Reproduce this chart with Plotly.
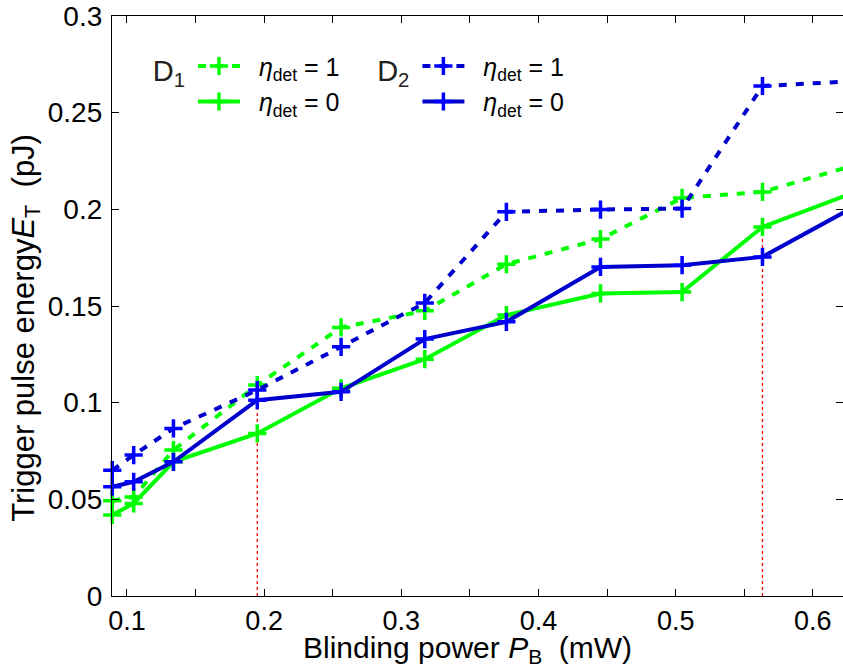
import plotly.graph_objects as go

# Blinding power P_B (mW)
power = [0.0893, 0.1049, 0.1339, 0.1950, 0.2561, 0.3171, 0.3766, 0.4452, 0.5047, 0.5633, 0.6275]

# Trigger pulse energy E_T (pJ)
d1_eta1 = [0.0493, 0.0512, 0.0755, 0.1091, 0.1389, 0.1475, 0.1716, 0.1846, 0.2059, 0.2090, 0.2222]
d1_eta0 = [0.0419, 0.0479, 0.0694, 0.0841, 0.1074, 0.1225, 0.1453, 0.1565, 0.1572, 0.1909, 0.2081]
d2_eta1 = [0.0651, 0.0729, 0.0867, 0.1065, 0.1289, 0.1516, 0.1987, 0.1999, 0.2004, 0.2638, 0.2662]
d2_eta0 = [0.0565, 0.0591, 0.0694, 0.1013, 0.1056, 0.1329, 0.1418, 0.1702, 0.1711, 0.1754, 0.2003]

# red dotted markers
mark_x = [0.1950, 0.5633]
mark_top = [0.1013, 0.1909]

x_ticks = [0.1, 0.2, 0.3, 0.4, 0.5, 0.6]
x_ticktext = ["0.1", "0.2", "0.3", "0.4", "0.5", "0.6"]
x_minor = [0.15, 0.25, 0.35, 0.45, 0.55]
y_ticks = [0, 0.05, 0.1, 0.15, 0.2, 0.25, 0.3]
y_ticktext = ["0", "0.05", "0.1", "0.15", "0.2", "0.25", "0.3"]

FONT = "Liberation Sans, Arial, Helvetica, sans-serif"
GREEN = "#00FF00"
BLUE_LINE = "#0000CC"
BLUE_MARK = "#0000FF"
DASH = "8px,9px"

fig = go.Figure()

# red dotted vertical lines
rx, ry = [], []
for xv, top in zip(mark_x, mark_top):
    rx += [xv, xv, None]
    ry += [0, top, None]
fig.add_trace(go.Scatter(x=rx, y=ry, mode="lines", showlegend=False,
                         line=dict(color="red", width=1.3, dash="dot"), hoverinfo="skip"))

def add(y, line_color, mark_color, dash, name, legend):
    fig.add_trace(go.Scatter(
        x=power, y=y, mode="lines+markers", name=name, legend=legend,
        line=dict(color=line_color, width=4, dash=dash),
        marker=dict(symbol="cross-thin", size=13, color=mark_color,
                    line=dict(color=mark_color, width=3.5)),
        cliponaxis=False,
    ))

NB = "\u00a0\u00a0"
eta1 = NB + "<i>η</i><sub>det</sub> = 1"
eta0 = NB + "<i>η</i><sub>det</sub> = 0"
add(d1_eta1, GREEN, GREEN, DASH, eta1, "legend")
add(d1_eta0, GREEN, GREEN, "solid", eta0, "legend")
add(d2_eta1, BLUE_LINE, BLUE_MARK, DASH, eta1, "legend2")
add(d2_eta0, BLUE_LINE, BLUE_MARK, "solid", eta0, "legend2")

axis_common = dict(
    showline=True, linecolor="black", linewidth=1.3, mirror="ticks",
    ticks="inside", ticklen=7, tickwidth=1, tickcolor="black",
    showgrid=False, zeroline=False, automargin=False,
)

fig.update_xaxes(range=[0.0891, 0.622], tickvals=x_ticks, ticktext=x_ticktext,
                 minor=dict(tickvals=x_minor, ticks="inside",
                            ticklen=7, tickwidth=1, tickcolor="black"),
                 tickfont=dict(family=FONT, size=27, color="black"),
                 ticklabelstandoff=0, **axis_common)
fig.update_yaxes(range=[0, 0.3], tickvals=y_ticks, ticktext=y_ticktext,
                 tickfont=dict(family=FONT, size=28, color="black"),
                 ticklabelstandoff=3, **axis_common)

legend_common = dict(
    font=dict(family=FONT, size=25, color="black"),
    bgcolor="rgba(0,0,0,0)", borderwidth=0,
    xanchor="left", yanchor="top", tracegroupgap=0,
    orientation="v", itemwidth=42,
)
fig.update_layout(
    legend=dict(x=0.053, y=0.953,
                title=dict(text="D<sub>1</sub>", side="left",
                           font=dict(family=FONT, size=29, color="#222")),
                **legend_common),
    legend2=dict(x=0.36, y=0.953,
                 title=dict(text="D<sub>2</sub>", side="left",
                            font=dict(family=FONT, size=29, color="#222")),
                 **legend_common),
)

fig.add_annotation(text="Blinding power <i>P</i><sub>B</sub>  (mW)", xref="paper", yref="paper",
                   x=0.487, y=-0.093, xanchor="center", yanchor="middle", showarrow=False,
                   font=dict(family=FONT, size=30, color="black"))
fig.add_annotation(text="Trigger pulse energy<i>E</i><sub>T</sub>  (pJ)", xref="paper", yref="paper",
                   x=-0.118, y=0.462, xanchor="center", yanchor="middle", showarrow=False,
                   textangle=-90, font=dict(family=FONT, size=31, color="black"))

fig.update_layout(
    width=843, height=669,
    margin=dict(l=112, r=0, t=16, b=73),
    paper_bgcolor="white", plot_bgcolor="white",
    font=dict(family=FONT, size=26, color="black"),
)

fig.write_html("out.html", config={"displayModeBar": False},
               post_script="document.body.style.margin='0';document.body.style.overflow='hidden';")
